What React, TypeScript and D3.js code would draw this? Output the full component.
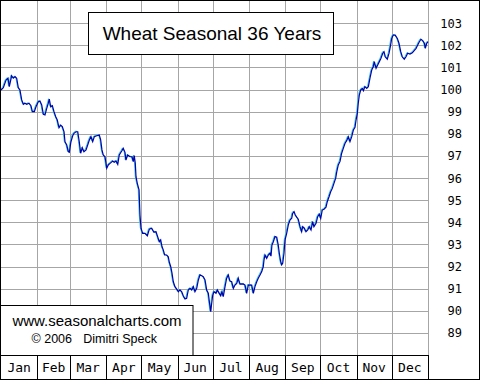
import React from "react";
import * as d3 from "d3";

const title = "Wheat Seasonal 36 Years";
const monthLabels = ["Jan", "Feb", "Mar", "Apr", "May", "Jun", "Jul", "Aug", "Sep", "Oct", "Nov", "Dec"];
const monthStarts = [0, 31, 59, 90, 120, 151, 181, 212, 243, 273, 304, 334, 365];
const yTicks = [89, 90, 91, 92, 93, 94, 95, 96, 97, 98, 99, 100, 101, 102, 103];

// day of year (0 = Jan 1) and seasonal index value
const days = [
  0, 2.0, 4.3, 6.0, 7.1, 9.1, 10.5, 12.0, 13.4, 14.8, 16.2, 17.7, 19.1, 20.5, 22.0, 23.9, 25.6, 26.8, 28.5, 29.9,
  31.9, 33.3, 34.8, 36.2, 37.6, 39.1, 40.4, 41.3, 42.5, 43.9, 45.3, 46.8, 48.1, 49.6, 51.0, 52.4, 53.9, 54.7, 56.2, 57.5,
  58.4, 59.8, 61.3, 62.4, 64.1, 65.6, 66.9, 68.1, 69.5, 70.9, 72.7, 74.1, 75.5, 76.9, 78.4, 79.8, 81.8, 84.0, 85.2, 86.3,
  87.4, 88.9, 90.4, 91.7, 93.2, 95.5, 96.8, 98.3, 99.8, 101.1, 103.2, 104.5, 106.0, 106.8, 108.3, 110.3, 112.0, 113.1, 113.9, 114.8,
  115.4, 116.5, 118.0, 118.8, 119.7, 121.1, 123.1, 125.1, 126.8, 128.8, 130.8, 132.5, 133.9, 135.3, 136.5, 137.6, 138.7, 139.9, 141.6, 143.0,
  143.9, 145.1, 146.2, 147.3, 148.7, 150.2, 151.6, 153.0, 154.5, 155.8, 157.3, 158.7, 160.1, 161.6, 163.0, 164.4, 165.8, 167.3, 168.7, 170.1,
  171.6, 172.9, 174.4, 175.8, 177.2, 178.1, 179.3, 180.1, 181.0, 182.1, 183.8, 184.9, 186.1, 187.8, 188.9, 190.0, 191.5, 192.9, 194.3, 195.7,
  197.2, 198.6, 200.0, 201.5, 202.8, 204.3, 207.1, 208.6, 210.0, 211.4, 214.3, 215.7, 217.1, 218.6, 219.9, 221.4, 222.9, 224.2, 224.8, 225.7,
  227.1, 228.5, 229.9, 230.8, 231.6, 232.8, 234.2, 235.7, 237.0, 237.9, 239.1, 239.9, 240.8, 241.9, 242.8, 244.2, 245.6, 247.0, 248.5, 249.3,
  250.5, 251.6, 252.8, 254.1, 255.6, 257.0, 257.9, 259.3, 260.7, 262.2, 263.5, 265.0, 266.4, 267.5, 269.3, 270.7, 272.1, 273.3, 274.6, 276.1,
  277.8, 278.9, 280.4, 281.8, 283.2, 284.6, 286.1, 287.0, 288.3, 289.8, 291.2, 292.6, 294.1, 295.5, 296.9, 298.3, 299.8, 301.2, 302.6, 303.5,
  304.6, 305.4, 306.3, 307.5, 308.9, 309.8, 311.1, 312.6, 314.0, 315.4, 316.9, 318.2, 319.1, 320.6, 322.0, 323.4, 324.8, 326.3, 327.4, 328.5,
  330.2, 331.7, 332.8, 334.0, 335.3, 337.0, 338.8, 340.2, 341.7, 343.0, 344.7, 346.2, 347.6, 349.6, 351.6, 353.0, 354.8, 356.2, 357.6, 359.0,
  360.5, 361.9, 362.7, 363.9, 365,
];
const values = [
  99.98, 100.08, 100.43, 100.51, 100.13, 100.62, 100.51, 100.58, 100.51, 100.08, 99.98, 99.53, 99.33, 99.38, 99.33, 99.38, 99.27, 99.0, 99.0, 99.22,
  99.45, 99.48, 99.3, 98.88, 98.85, 99.15, 99.38, 99.56, 99.22, 99.27, 99.0, 98.77, 98.62, 98.27, 98.39, 98.32, 98.09, 97.64, 97.49, 97.19,
  97.16, 97.64, 97.91, 98.02, 98.09, 98.09, 97.64, 97.12, 97.37, 97.19, 97.27, 97.49, 97.72, 97.87, 97.64, 97.87, 97.91, 97.94, 97.72, 97.27,
  97.04, 96.96, 96.44, 96.59, 96.66, 96.77, 96.71, 96.77, 96.62, 97.04, 97.22, 97.34, 97.16, 96.81, 97.04, 96.96, 96.96, 96.74, 97.01, 96.66,
  96.06, 95.76, 95.46, 94.33, 93.73, 93.5, 93.5, 93.39, 93.69, 93.73, 93.55, 93.57, 93.35, 93.12, 93.2, 92.9, 92.75, 92.52, 92.52, 92.44,
  92.19, 91.99, 91.69, 91.31, 91.09, 90.98, 90.86, 90.94, 90.86, 90.68, 90.53, 90.56, 90.94, 91.01, 90.94, 91.09, 90.86, 91.01, 91.39, 91.62,
  91.58, 91.54, 91.39, 90.94, 90.79, 90.41, 89.96, 90.34, 90.71, 90.86, 90.79, 90.94, 90.83, 90.68, 90.86, 90.64, 91.09, 91.47, 91.62, 91.34,
  91.31, 91.01, 91.16, 91.24, 91.47, 91.2, 91.21, 91.16, 90.79, 91.16, 91.16, 90.79, 91.09, 91.31, 91.47, 91.62, 91.77, 91.99, 92.29, 92.52,
  92.37, 92.52, 92.6, 92.47, 92.97, 93.12, 93.35, 93.32, 92.97, 92.6, 92.22, 92.07, 92.14, 92.6, 93.2, 93.5, 93.88, 94.1, 94.18, 94.4,
  94.48, 94.33, 94.23, 94.14, 93.8, 93.57, 93.8, 93.73, 93.57, 93.65, 93.8, 93.65, 94.03, 93.8, 93.95, 94.25, 94.37, 94.18, 94.55, 94.59,
  94.68, 94.93, 95.15, 95.38, 95.53, 95.76, 95.99, 96.28, 96.59, 96.75, 97.12, 97.34, 97.57, 97.69, 97.87, 97.64, 97.87, 98.17, 98.29, 98.62,
  98.92, 99.38, 99.75, 99.98, 100.05, 99.95, 100.13, 100.05, 100.13, 100.51, 100.88, 101.03, 101.26, 100.96, 101.11, 101.26, 101.41, 101.64, 101.71, 101.48,
  101.37, 101.64, 101.94, 102.31, 102.46, 102.46, 102.31, 102.09, 101.71, 101.48, 101.37, 101.48, 101.64, 101.6, 101.66, 101.75, 101.86, 102.01, 102.16, 102.27,
  102.21, 102.09, 101.86, 102.09, 102.16,
];

const W = 480;
const H = 380;
const plotRight = 428;
const plotBottom = 355;
const grid = "#a6a6a6";

export default function App() {
  const x = d3.scaleLinear().domain([0, 365]).range([1, plotRight]);
  const y = d3.scaleLinear().domain([88, 104]).range([plotBottom, 1]);
  const pts: [number, number][] = days.map((d, i) => [d, values[i]]);
  const line = d3
    .line<[number, number]>()
    .x((d) => x(d[0]))
    .y((d) => y(d[1]));
  const path = line(pts) || "";
  const px = (v: number) => Math.round(v) + 0.5;

  return (
    <svg
      width={W}
      height={H}
      style={{ position: "absolute", left: 0, top: 0, display: "block" }}
      xmlns="http://www.w3.org/2000/svg"
    >
      <rect x={0} y={0} width={W} height={H} fill="#fff" />
      {/* horizontal gridlines */}
      {yTicks.map((t) => (
        <line key={"h" + t} x1={0} x2={plotRight} y1={px(y(t))} y2={px(y(t))} stroke={grid} strokeWidth={1} />
      ))}
      {/* vertical gridlines */}
      {monthStarts.slice(1).map((d) => (
        <line key={"v" + d} x1={px(x(d))} x2={px(x(d))} y1={0} y2={plotBottom} stroke={grid} strokeWidth={1} />
      ))}
      {/* series */}
      <path d={path} fill="none" stroke="#38c8e8" strokeWidth={1} transform="translate(-0.8,-0.5)" />
      <path d={path} fill="none" stroke="#0000a8" strokeWidth={1.2} />
      {/* title box */}
      <rect x={88.5} y={12.5} width={245} height={42} fill="#fff" stroke="#000" strokeWidth={1} />
      <text x={212} y={40} textAnchor="middle" fontFamily="'Liberation Sans', Arial, sans-serif" fontSize={19} fill="#000">
        {title}
      </text>
      {/* watermark box */}
      <rect x={0.5} y={305.5} width={192.5} height={50} fill="#fff" stroke="#000" strokeWidth={1} />
      <text x={97} y={326} textAnchor="middle" fontFamily="'Liberation Sans', Arial, sans-serif" fontSize={15} fill="#000">
        www.seasonalcharts.com
      </text>
      <text x={31.5} y={343.3} fontFamily="'Liberation Sans', Arial, sans-serif" fontSize={12.5} fill="#000">
        © 2006
      </text>
      <text x={83.3} y={343.3} fontFamily="'Liberation Sans', Arial, sans-serif" fontSize={12.5} fill="#000">
        Dimitri Speck
      </text>
      {/* month axis band */}
      <line x1={0} x2={plotRight + 0.5} y1={plotBottom + 0.5} y2={plotBottom + 0.5} stroke="#000" />
      {monthStarts.slice(1).map((d) => (
        <line key={"s" + d} x1={px(x(d))} x2={px(x(d))} y1={plotBottom} y2={H} stroke="#000" strokeWidth={1} />
      ))}
      {monthLabels.map((m, i) => (
        <text
          key={m}
          x={(x(monthStarts[i]) + x(monthStarts[i + 1])) / 2}
          y={372}
          textAnchor="middle"
          fontFamily="'DejaVu Sans Mono', monospace"
          fontSize={13}
          fill="#000"
        >
          {m}
        </text>
      ))}
      {/* y labels */}
      {yTicks.map((t) => (
        <text
          key={"l" + t}
          x={462}
          y={y(t) + 4.5}
          textAnchor="end"
          fontFamily="'DejaVu Sans Mono', monospace"
          fontSize={12}
          fill="#000"
        >
          {t}
        </text>
      ))}
      {/* outer border */}
      <rect x={0.5} y={0.5} width={W - 1} height={H - 1} fill="none" stroke="#000" strokeWidth={1} />
    </svg>
  );
}
